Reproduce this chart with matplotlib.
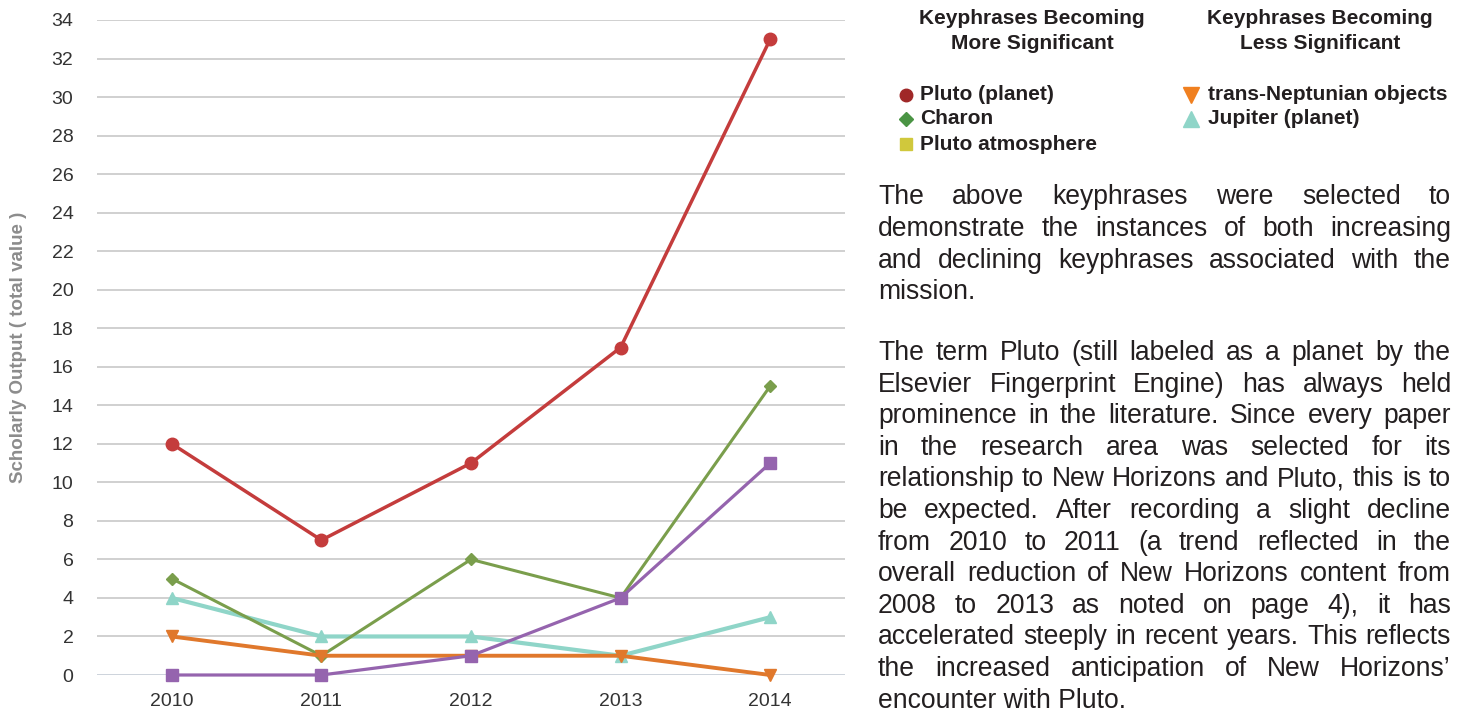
import matplotlib
matplotlib.use("Agg")
import matplotlib.pyplot as plt
from matplotlib.lines import Line2D

# ---- data -------------------------------------------------------------
years = [2010, 2011, 2012, 2013, 2014]
pluto_planet = [12, 7, 11, 17, 33]
charon = [5, 1, 6, 4, 15]
pluto_atmosphere = [0, 0, 1, 4, 11]
trans_neptunian = [2, 1, 1, 1, 0]
jupiter_planet = [4, 2, 2, 1, 3]

y_ticks = list(range(0, 35, 2))
y_label = "Scholarly Output ( total value )"

more_title = "Keyphrases Becoming\nMore Significant"
less_title = "Keyphrases Becoming\nLess Significant"
more_labels = ["Pluto (planet)", "Charon", "Pluto atmosphere"]
less_labels = ["trans-Neptunian objects", "Jupiter (planet)"]

para1 = [
    "The above keyphrases were selected to",
    "demonstrate the instances of both increasing",
    "and declining keyphrases associated with the",
    "mission.",
]
para2 = [
    "The term Pluto (still labeled as a planet by the",
    "Elsevier Fingerprint Engine) has always held",
    "prominence in the literature. Since every paper",
    "in the research area was selected for its",
    "relationship to New Horizons and Pluto, this is to",
    "be expected. After recording a slight decline",
    "from 2010 to 2011 (a trend reflected in the",
    "overall reduction of New Horizons content from",
    "2008 to 2013 as noted on page 4), it has",
    "accelerated steeply in recent years. This reflects",
    "the increased anticipation of New Horizons\u2019",
    "encounter with Pluto.",
]

# ---- style ------------------------------------------------------------
W, H = 1469, 715
plt.rcParams["font.family"] = ["Liberation Sans", "DejaVu Sans"]
TEXT = "#231f20"

fig = plt.figure(figsize=(W / 100, H / 100), dpi=100)
fig.patch.set_facecolor("white")


def fx(px):
    return px / W


def fy(py):
    return 1 - py / H


ax = fig.add_axes([fx(97), fy(675), fx(845) - fx(97), fy(20) - fy(675)])
ax.set_xlim(2009.5, 2014.5)
ax.set_ylim(0, 34)
for s in ax.spines.values():
    s.set_visible(False)
ax.set_yticks(y_ticks)
ax.set_xticks(years)
ax.tick_params(axis="both", length=0, labelsize=14, colors="#333333")
ax.tick_params(axis="y", pad=17)
ax.tick_params(axis="x", pad=13)
for t in y_ticks:
    ax.axhline(t, color="#c5ccd5" if t == 0 else "#c8c8c8", lw=1.2, zorder=0)
ax.set_ylabel(y_label, fontsize=13.5, fontweight="bold", color="#8c8c8c")
ax.yaxis.set_label_coords(-0.094, 0.5)

series = [
    (jupiter_planet, "#8fd5c8", "^", 9, 3.0, 2),
    (charon, "#7a9e4c", "D", 6, 2.2, 3),
    (trans_neptunian, "#e0782c", "v", 9, 2.8, 4),
    (pluto_atmosphere, "#9564ae", "s", 8.5, 2.3, 5),
    (pluto_planet, "#c43c3c", "o", 9, 2.5, 6),
]
for vals, col, mk, ms, lw, z in series:
    ax.plot(years, vals, color=col, marker=mk, markersize=ms, lw=lw,
            zorder=z, clip_on=False)

# ---- legend block -----------------------------------------------------
LEG = 15
fig.text(fx(1032), fy(31), more_title, ha="center", va="center",
         fontsize=LEG, fontweight="bold", color=TEXT, linespacing=1.38)
fig.text(fx(1320), fy(31), less_title, ha="center", va="center",
         fontsize=LEG, fontweight="bold", color=TEXT, linespacing=1.38)

legend_more = [("o", "#a02828", 9), ("D", "#4a9444", 7.5), ("s", "#d0c83c", 8.5)]
legend_less = [("v", "#f08020", 11), ("^", "#8fd5c8", 11)]
rows = [95, 119, 144]
for (mk, col, ms), lab, r in zip(legend_more, more_labels, rows):
    fig.add_artist(Line2D([fx(906)], [fy(r)], transform=fig.transFigure,
                          marker=mk, color=col, markersize=ms, lw=0))
    fig.text(fx(920), fy(r), lab, ha="left", va="center", fontsize=LEG,
             fontweight="bold", color=TEXT)
for (mk, col, ms), lab, r in zip(legend_less, less_labels, rows):
    fig.add_artist(Line2D([fx(1191)], [fy(r)], transform=fig.transFigure,
                          marker=mk, color=col, markersize=ms, lw=0))
    fig.text(fx(1208), fy(r), lab, ha="left", va="center", fontsize=LEG,
             fontweight="bold", color=TEXT)

# ---- justified body text ----------------------------------------------
renderer = fig.canvas.get_renderer()
X0, X1 = 878, 1451

# pick the body size so the fullest line just fills the column
probe = 10.0
widest = 0
for line in para1[:-1] + para2[:-1]:
    t = fig.text(0, 0, line, fontsize=probe)
    widest = max(widest, t.get_window_extent(renderer).width)
    t.remove()
BODY = probe * (X1 - X0) / widest * 0.995


def justify(lines, first_baseline, step):
    for i, line in enumerate(lines):
        yb = fy(first_baseline + i * step)
        if i == len(lines) - 1:
            fig.text(fx(X0), yb, line, ha="left", va="baseline",
                     fontsize=BODY, color=TEXT)
            continue
        words = line.split()
        arts = [fig.text(0, yb, w, ha="left", va="baseline",
                         fontsize=BODY, color=TEXT) for w in words]
        widths = [a.get_window_extent(renderer).width for a in arts]
        gap = (X1 - X0 - sum(widths)) / (len(words) - 1)
        x = X0
        for a, w in zip(arts, widths):
            a.set_x(fx(x))
            x += w + gap


justify(para1, 204, 31.8)
justify(para2, 360, 31.6)

fig.savefig("out.png", dpi=100, facecolor="white")
